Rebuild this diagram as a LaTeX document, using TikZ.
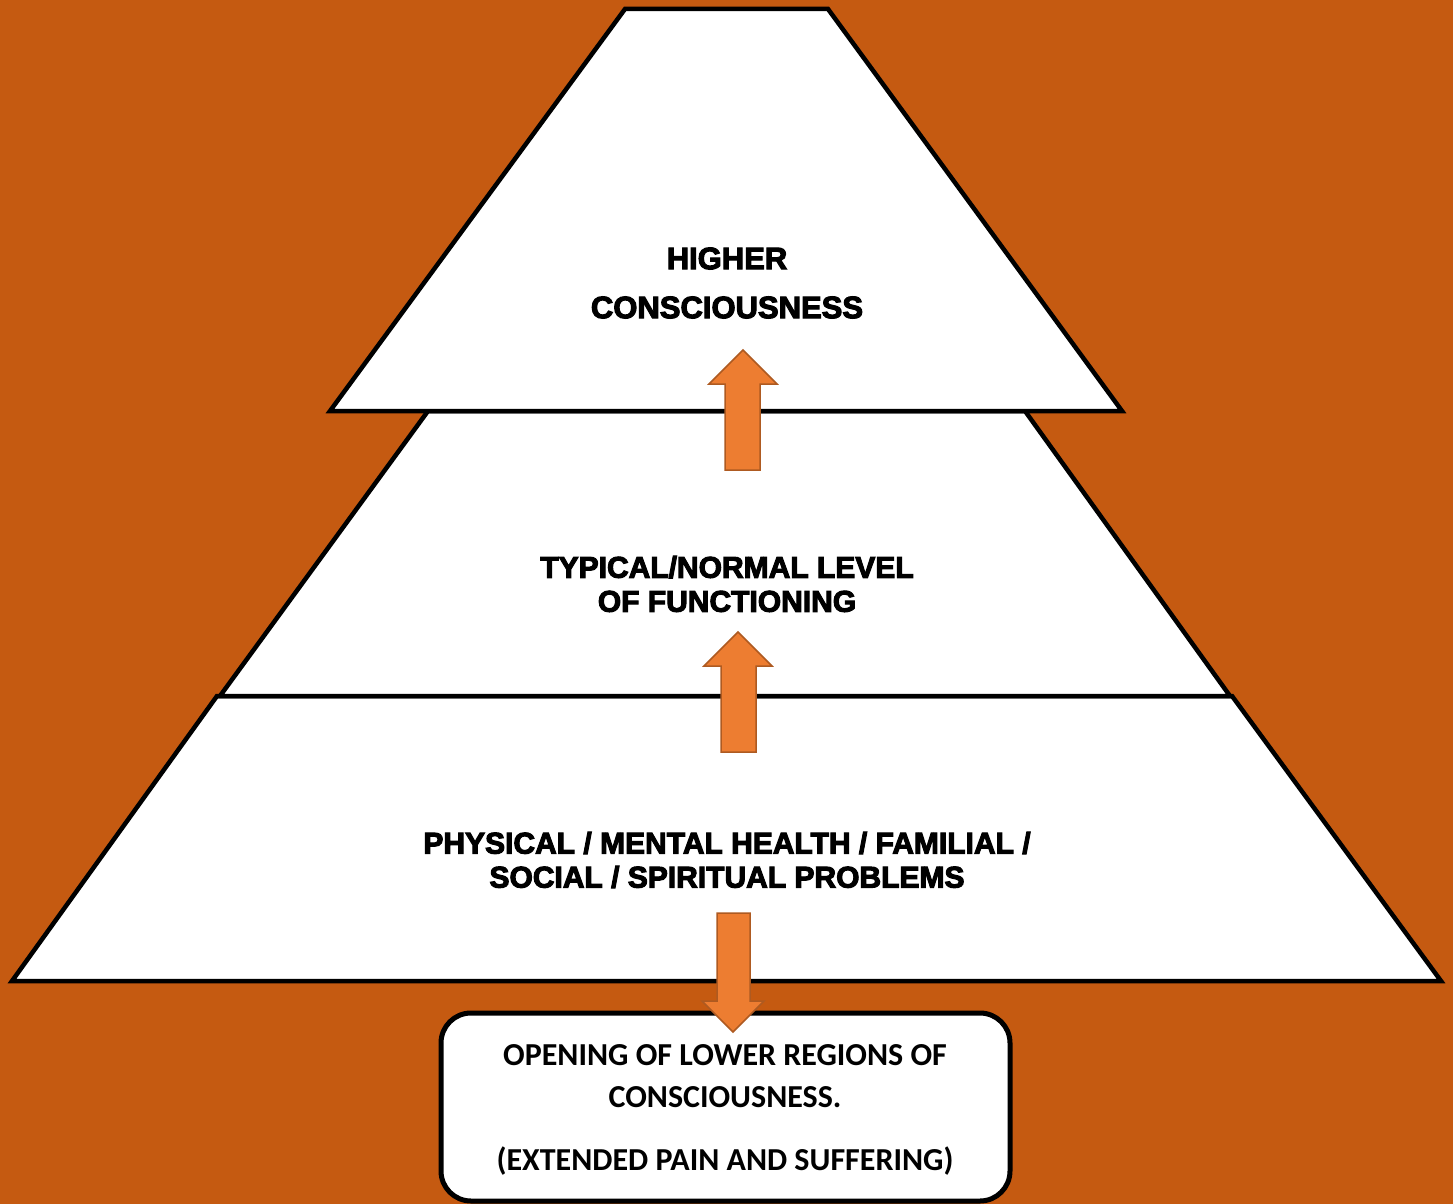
\documentclass[tikz,border=0pt]{standalone}
\usepackage{fontspec}
\newfontfamily\heavyfont{Liberation Sans}[BoldFeatures={FakeBold=3.5}]
\newfontfamily\boxfont{Carlito}
\definecolor{bgorange}{HTML}{C55A11}
\definecolor{arrowfill}{HTML}{ED7D31}
\definecolor{arrowline}{HTML}{AE5A21}
\tikzset{
  tier/.style={fill=white, draw=black, line width=4.5pt, line join=miter},
  blockarrow/.style={fill=arrowfill, draw=arrowline, line width=1.5pt, line join=miter},
  tiertext/.style={align=center, inner sep=0pt, font=\heavyfont\bfseries\fontsize{30}{34}\selectfont},
  boxtext/.style={align=center, inner sep=0pt, font=\boxfont\bfseries\fontsize{32}{42}\selectfont}
}
\begin{document}
\begin{tikzpicture}[x=1pt,y=-1pt]
\fill[bgorange] (0,0) rectangle (1453,1204);
\useasboundingbox (0,0) rectangle (1453,1204);
% tiers
\draw[tier] (12,981) -- (217,696) -- (1232,696) -- (1441,981) -- cycle;
\draw[tier] (220,696) -- (428,411) -- (1025,411) -- (1230,696) -- cycle;
\draw[tier] (330,411) -- (625,9) -- (828,9) -- (1122,411) -- cycle;
% bottom box
\draw[fill=white, draw=black, line width=5pt, rounded corners=30pt] (441,1013) rectangle (1010,1201);
% labels
\node[tiertext, font=\heavyfont\bfseries\fontsize{31}{49}\selectfont] (top) at (727,283) {HIGHER\\CONSCIOUSNESS};
\node[tiertext] (mid) at (727,584) {TYPICAL/NORMAL LEVEL\\OF FUNCTIONING};
\node[tiertext] (low) at (727,860) {PHYSICAL / MENTAL HEALTH / FAMILIAL /\\SOCIAL / SPIRITUAL PROBLEMS};
\node[boxtext] (boxlbl) at (725,1110) {OPENING OF LOWER REGIONS OF\\CONSCIOUSNESS.\\[21pt](EXTENDED PAIN AND SUFFERING)};
% arrows
\draw[blockarrow] (725,470) -- (725,384) -- (709,384) -- (743,350) -- (777,384) -- (760,384) -- (760,470) -- cycle;
\draw[blockarrow] (721,752) -- (721,666) -- (704,666) -- (738,632) -- (772,666) -- (756,666) -- (756,752) -- cycle;
\draw[blockarrow] (717,913) -- (750,913) -- (750,1001) -- (764,1001) -- (733,1032) -- (702,1001) -- (717,1001) -- cycle;
\end{tikzpicture}
\end{document}
